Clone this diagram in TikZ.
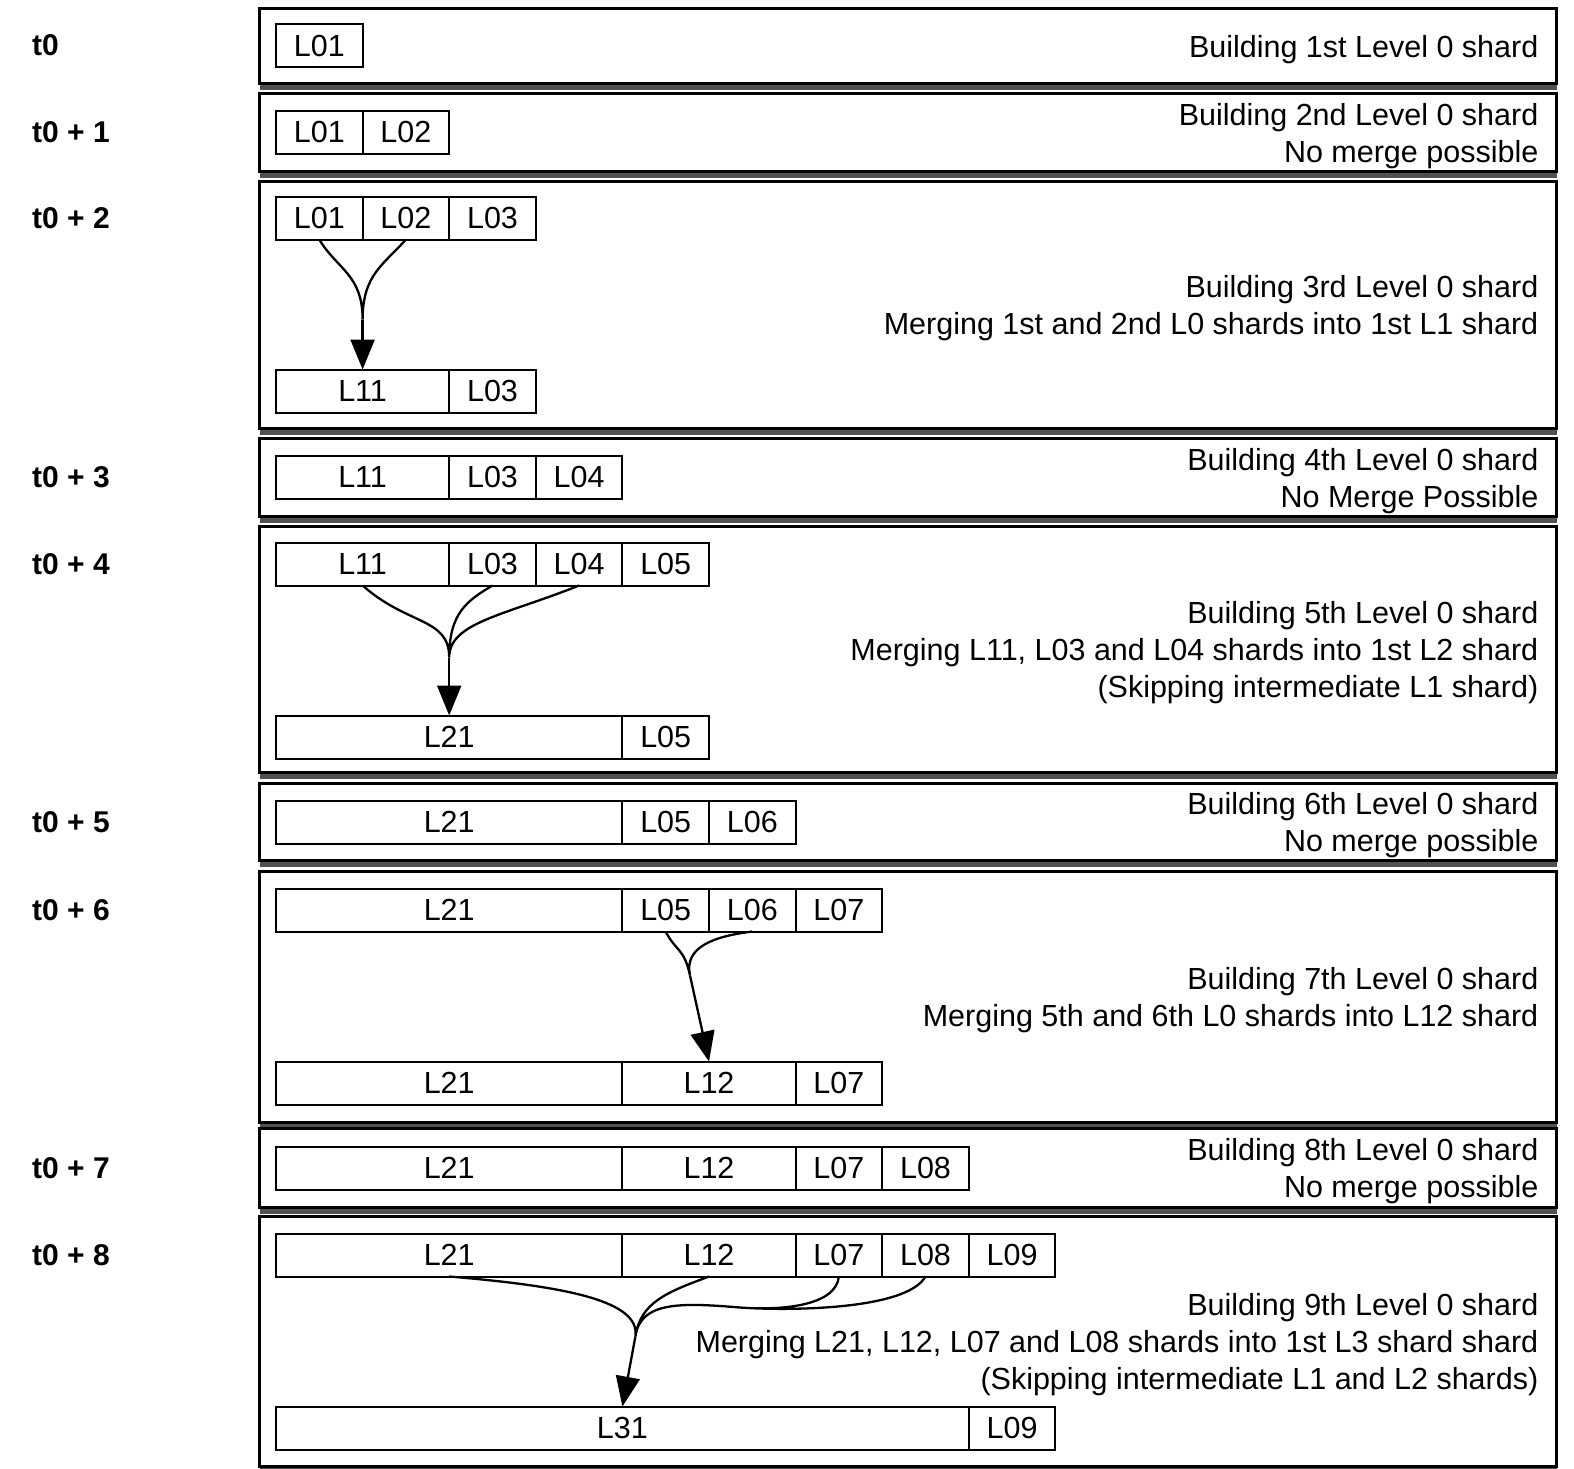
\documentclass[tikz,border=0pt]{standalone}
\usepackage{fontspec}
\setmainfont{Liberation Sans}
\usetikzlibrary{positioning, arrows.meta, shadows}
\tikzset{>={Triangle[length=30pt, width=24pt]},
         node distance=0pt,
         every node/.append style={font=\fontsize{30.5}{37}\selectfont},
         panel/.style={draw, line width=3pt, fill=white, minimum width=1297pt,
                       drop shadow={shadow xshift=1pt, shadow yshift=-7pt, fill=black!85, opacity=.8}},
         shard/.style={draw, line width=2pt, inner sep=0pt, outer sep=0pt,
                       minimum height=43pt, minimum width=#1*86.6pt},
         shard/.default=1,
         note/.style={align=right, inner sep=0pt, yshift=-4pt},
         tlabel/.style={anchor=west, inner sep=0pt, font=\fontsize{30}{36}\selectfont\bfseries},
         merge/.style={line width=2.3pt},
         }

\begin{document}
\begin{tikzpicture}[x=1pt, y=-1pt]
    \useasboundingbox (0,0) rectangle (1574,1468);

    % t0
    \node[panel, minimum height=75pt] (p0) at (907.5,45.5) {};
    \node[tlabel] (t0) at (32,45.5) {t0};
    \node[shard, anchor=west] (a0L01) at (276,45.5) {L01};
    \node[note, left=19pt of p0.east] (n0) {Building 1st Level 0 shard};

    % t0 + 1
    \node[panel, minimum height=78pt] (p1) at (907.5,132) {};
    \node[tlabel] (t1) at (32,132) {t0 + 1};
    \node[shard, anchor=west] (a1L01) at (276,132) {L01};
    \node[shard, right=of a1L01] (a1L02) {L02};
    \node[note, left=19pt of p1.east] (n1) {Building 2nd Level 0 shard\\No merge possible};

    % t0 + 2
    \node[panel, minimum height=247pt] (p2) at (907.5,304.5) {};
    \node[tlabel] (t2) at (32,218) {t0 + 2};
    \node[shard, anchor=west] (a2L01) at (276,218) {L01};
    \node[shard, right=of a2L01] (a2L02) {L02};
    \node[shard, right=of a2L02] (a2L03) {L03};
    \node[shard=2, anchor=west] (b2L11) at (276,391) {L11};
    \node[shard, right=of b2L11] (b2L03) {L03};
    \node[note, left=19pt of p2.east] (n2) {Building 3rd Level 0 shard\\Merging 1st and 2nd L0 shards into 1st L1 shard};
    \coordinate[above=50pt of b2L11.north] (m2);
    \draw[merge] (a2L01.south) .. controls +(18,30) and +(0,-45) .. (m2)
                 (a2L02.south) .. controls +(-22,25) and +(0,-45) .. (m2);
    \draw[merge, ->] (m2) -- (b2L11.north);

    % t0 + 3
    \node[panel, minimum height=78pt] (p3) at (907.5,477) {};
    \node[tlabel] (t3) at (32,477) {t0 + 3};
    \node[shard=2, anchor=west] (a3L11) at (276,477) {L11};
    \node[shard, right=of a3L11] (a3L03) {L03};
    \node[shard, right=of a3L03] (a3L04) {L04};
    \node[note, left=19pt of p3.east] (n3) {Building 4th Level 0 shard\\No Merge Possible};

    % t0 + 4
    \node[panel, minimum height=246pt] (p4) at (907.5,649) {};
    \node[tlabel] (t4) at (32,564) {t0 + 4};
    \node[shard=2, anchor=west] (a4L11) at (276,564) {L11};
    \node[shard, right=of a4L11] (a4L03) {L03};
    \node[shard, right=of a4L03] (a4L04) {L04};
    \node[shard, right=of a4L04] (a4L05) {L05};
    \node[shard=4, anchor=west] (b4L21) at (276,737) {L21};
    \node[shard, right=of b4L21] (b4L05) {L05};
    \node[note, left=19pt of p4.east] (n4) {Building 5th Level 0 shard\\Merging L11, L03 and L04 shards into 1st L2 shard\\(Skipping intermediate L1 shard)};
    \coordinate[above=58pt of b4L21.north] (m4);
    \draw[merge] (a4L11.south) .. controls +(45,40) and +(0,-40) .. (m4)
                 (a4L03.south) .. controls +(-25,15) and +(0,-45) .. (m4)
                 (a4L04.south) .. controls +(-75,30) and +(0,-35) .. (m4);
    \draw[merge, ->] (m4) -- (b4L21.north);

    % t0 + 5
    \node[panel, minimum height=77pt] (p5) at (907.5,821.5) {};
    \node[tlabel] (t5) at (32,822) {t0 + 5};
    \node[shard=4, anchor=west] (a5L21) at (276,822) {L21};
    \node[shard, right=of a5L21] (a5L05) {L05};
    \node[shard, right=of a5L05] (a5L06) {L06};
    \node[note, left=19pt of p5.east] (n5) {Building 6th Level 0 shard\\No merge possible};

    % t0 + 6
    \node[panel, minimum height=251pt] (p6) at (907.5,996.5) {};
    \node[tlabel] (t6) at (32,910) {t0 + 6};
    \node[shard=4, anchor=west] (a6L21) at (276,910) {L21};
    \node[shard, right=of a6L21] (a6L05) {L05};
    \node[shard, right=of a6L05] (a6L06) {L06};
    \node[shard, right=of a6L06] (a6L07) {L07};
    \node[shard=4, anchor=west] (b6L21) at (276,1083) {L21};
    \node[shard=2, right=of b6L21] (b6L12) {L12};
    \node[shard, right=of b6L12] (b6L07) {L07};
    \node[note, left=19pt of p6.east] (n6) {Building 7th Level 0 shard\\Merging 5th and 6th L0 shards into L12 shard};
    \coordinate[above left=86pt and 19pt of b6L12.north] (m6);
    \draw[merge] (a6L05.south) .. controls +(10,20) and +(-6,-28) .. (m6)
                 (a6L06.south) .. controls +(-40,5) and +(-6,-28) .. (m6);
    \draw[merge, ->] (m6) -- (b6L12.north);

    % t0 + 7
    \node[panel, minimum height=79pt] (p7) at (907.5,1167.5) {};
    \node[tlabel] (t7) at (32,1168) {t0 + 7};
    \node[shard=4, anchor=west] (a7L21) at (276,1168) {L21};
    \node[shard=2, right=of a7L21] (a7L12) {L12};
    \node[shard, right=of a7L12] (a7L07) {L07};
    \node[shard, right=of a7L07] (a7L08) {L08};
    \node[note, left=19pt of p7.east] (n7) {Building 8th Level 0 shard\\No merge possible};

    % t0 + 8
    \node[panel, minimum height=250pt] (p8) at (907.5,1341) {};
    \node[tlabel] (t8) at (32,1255) {t0 + 8};
    \node[shard=4, anchor=west] (a8L21) at (276,1255) {L21};
    \node[shard=2, right=of a8L21] (a8L12) {L12};
    \node[shard, right=of a8L12] (a8L07) {L07};
    \node[shard, right=of a8L07] (a8L08) {L08};
    \node[shard, right=of a8L08] (a8L09) {L09};
    \node[shard=8, anchor=west] (b8L31) at (276,1428) {L31};
    \node[shard, right=of b8L31] (b8L09) {L09};
    \node[note, left=19pt of p8.east] (n8) {Building 9th Level 0 shard\\Merging L21, L12, L07 and L08 shards into 1st L3 shard shard\\(Skipping intermediate L1 and L2 shards)};
    \coordinate[above right=70pt and 13pt of b8L31.north] (m8);
    \coordinate[below right=31pt and 31pt of a8L12.south] (w8);
    \draw[merge] (a8L21.south) .. controls +(120,10) and +(5,-35) .. (m8)
                 (a8L12.south) .. controls +(-40,15) and +(5,-35) .. (m8)
                 (a8L07.south) .. controls +(-3,30) and +(40,3) .. (w8)
                 (a8L08.south) .. controls +(-20,35) and +(40,3) .. (w8)
                 (w8) .. controls +(-60,-5) and +(5,-35) .. (m8);
    \draw[merge, ->] (m8) -- (b8L31.north);
\end{tikzpicture}
\end{document}
